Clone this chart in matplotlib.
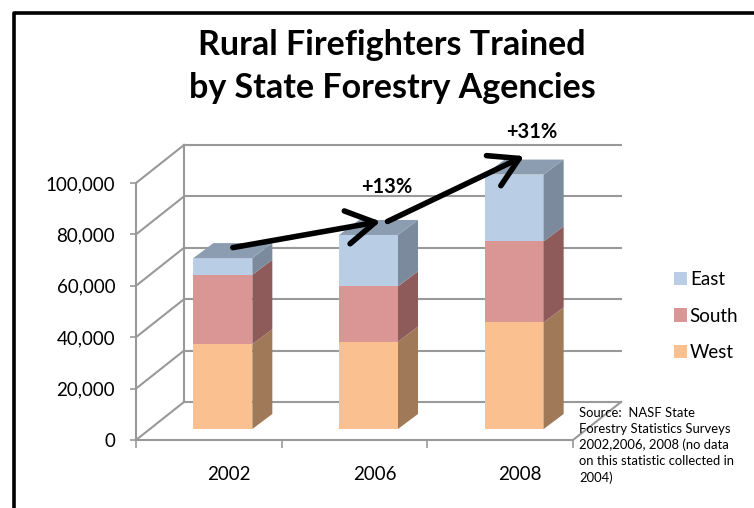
import matplotlib
matplotlib.use("Agg")
import matplotlib.pyplot as plt
from matplotlib.patches import Polygon, Patch
from matplotlib.lines import Line2D

plt.rcParams["font.family"] = ["Lato", "DejaVu Sans"]

years = ["2002", "2006", "2008"]
regions = ["West", "South", "East"]
west = [33000, 34000, 41500]
south = [27000, 21500, 31500]
east = [6500, 20000, 26000]
growth = ["", "+13%", "+31%"]

front_col = {"West": "#FAC08F", "South": "#D99694", "East": "#B9CDE5"}
side_col = {"West": "#A07A58", "South": "#8E5B5A", "East": "#7B8A9C"}
top_col = {"West": "#B38A66", "South": "#A06A69", "East": "#8D9DB1"}

W, H = 754, 508
fig = plt.figure(figsize=(W / 100, H / 100), dpi=100)
ax = fig.add_axes([136 / W, 68 / H, 437 / W, 257 / H])
ax.set_xlim(-0.5, 2.5)
ax.set_ylim(0, 100000)

# pixel -> data unit conversion for the fake 3D depth
px_x = 3 / 437
px_y = 100000 / 257
wall_dx, wall_dy = 48 * px_x, 38 * px_y
bar_fx, bar_fy = 14 * px_x, 11 * px_y      # bar front offset into the depth
bar_dx, bar_dy = 20 * px_x, 15 * px_y      # bar depth
bar_w = 59 * px_x

grid = "#999999"
# back wall gridlines + left wall diagonals
for v in range(0, 100001, 20000):
    ax.plot([-0.5 + wall_dx, 2.5 + wall_dx], [v + wall_dy] * 2, color=grid, lw=1.5,
            clip_on=False, zorder=1)
    ax.plot([-0.5, -0.5 + wall_dx], [v, v + wall_dy], color=grid, lw=1.5,
            clip_on=False, zorder=1)
ax.plot([-0.5 + wall_dx] * 2, [wall_dy, 100000 + wall_dy], color=grid, lw=1.5,
        clip_on=False, zorder=1)
# floor
ax.plot([-0.5, 2.5, 2.5 + wall_dx], [0, 0, wall_dy], color=grid, lw=1.5,
        clip_on=False, zorder=1)
ax.plot([-0.5, -0.5], [0, 100000], color=grid, lw=1.5, clip_on=False, zorder=1)

# stacked pseudo-3D bars
series = {"West": west, "South": south, "East": east}
tops = []
for i in range(len(years)):
    x0 = i - bar_w / 2 + bar_fx
    x1 = x0 + bar_w
    base = 0
    for r in regions:
        v = series[r][i]
        y0, y1 = base + bar_fy, base + v + bar_fy
        ax.add_patch(Polygon([(x0, y0), (x1, y0), (x1, y1), (x0, y1)],
                             facecolor=front_col[r], edgecolor="none", zorder=3,
                             clip_on=False))
        ax.add_patch(Polygon([(x1, y0), (x1 + bar_dx, y0 + bar_dy),
                              (x1 + bar_dx, y1 + bar_dy), (x1, y1)],
                             facecolor=side_col[r], edgecolor="none", zorder=3,
                             clip_on=False))
        base += v
    y1 = base + bar_fy
    ax.add_patch(Polygon([(x0, y1), (x1, y1), (x1 + bar_dx, y1 + bar_dy),
                          (x0 + bar_dx, y1 + bar_dy)],
                         facecolor=top_col["East"], edgecolor="none", zorder=3,
                         clip_on=False))
    tops.append(((x0 + x1 + bar_dx) / 2, y1 + bar_dy / 2))

# growth arrows
starts = [(tops[0][0], tops[0][1] + 3 * px_y), (tops[1][0] + 9 * px_x, tops[1][1] + 6 * px_y)]
ends = [(tops[1][0] + 2 * px_x, tops[1][1] + 6 * px_y), (tops[2][0], tops[2][1] + 11 * px_y)]
for s, e in zip(starts, ends):
    ax.annotate("", xy=e, xytext=s, annotation_clip=False,
                arrowprops=dict(arrowstyle="->,head_length=0.85,head_width=0.5",
                                lw=4.0, color="black", mutation_scale=24,
                                shrinkA=0, shrinkB=0), zorder=5)
label_dy = [0, 40, 35]
for i in (1, 2):
    ax.text(tops[i][0] + 8 * px_x, tops[i][1] + label_dy[i] * px_y, growth[i],
            ha="center", va="center", fontsize=14.5, fontweight="bold", zorder=6)

# axes styling
for sp in ax.spines.values():
    sp.set_visible(False)
ax.set_yticks(range(0, 100001, 20000))
ax.set_yticklabels([f"{v:,}" for v in range(0, 100001, 20000)])
ax.tick_params(axis="y", length=4, color=grid, pad=11, labelsize=13.5, width=1.2)
ax.set_xticks([-0.5, 0.5, 1.5, 2.5])
ax.set_xticklabels([])
ax.tick_params(axis="x", which="major", length=6, color=grid, width=1.2)
ax.set_xticks([i + 20 * px_x for i in range(3)], minor=True)
ax.set_xticklabels(years, minor=True)
ax.tick_params(axis="x", which="minor", length=0, pad=19, labelsize=13.5)
ax.patch.set_visible(False)

handles = [Patch(facecolor=front_col[r], edgecolor="none", label=r) for r in reversed(regions)]
fig.legend(handles=handles, loc="upper left", bbox_to_anchor=(657 / W, 1 - 254 / H),
           frameon=False, fontsize=13.5, handlelength=0.7, handleheight=0.7,
           handletextpad=0.15, labelspacing=1.05)

fig.text(392 / W, 1 - 45 / H, "Rural Firefighters Trained", ha="center", va="center",
         fontsize=24.5, fontweight="bold")
fig.text(392 / W, 1 - 88 / H, "by State Forestry Agencies", ha="center", va="center",
         fontsize=24.5, fontweight="bold")
fig.text(579 / W, 1 - 407 / H,
         "Source:  NASF State\nForestry Statistics Surveys\n2002,2006, 2008 (no data\n"
         "on this statistic collected in\n2004)",
         ha="left", va="top", fontsize=9.4, linespacing=1.38)

# outer border
fig.add_artist(Line2D([14 / W, 14 / W, 1], [0, 1 - 13 / H, 1 - 13 / H],
                      transform=fig.transFigure, color="black", lw=2.6))

fig.savefig("out.png", dpi=100)
